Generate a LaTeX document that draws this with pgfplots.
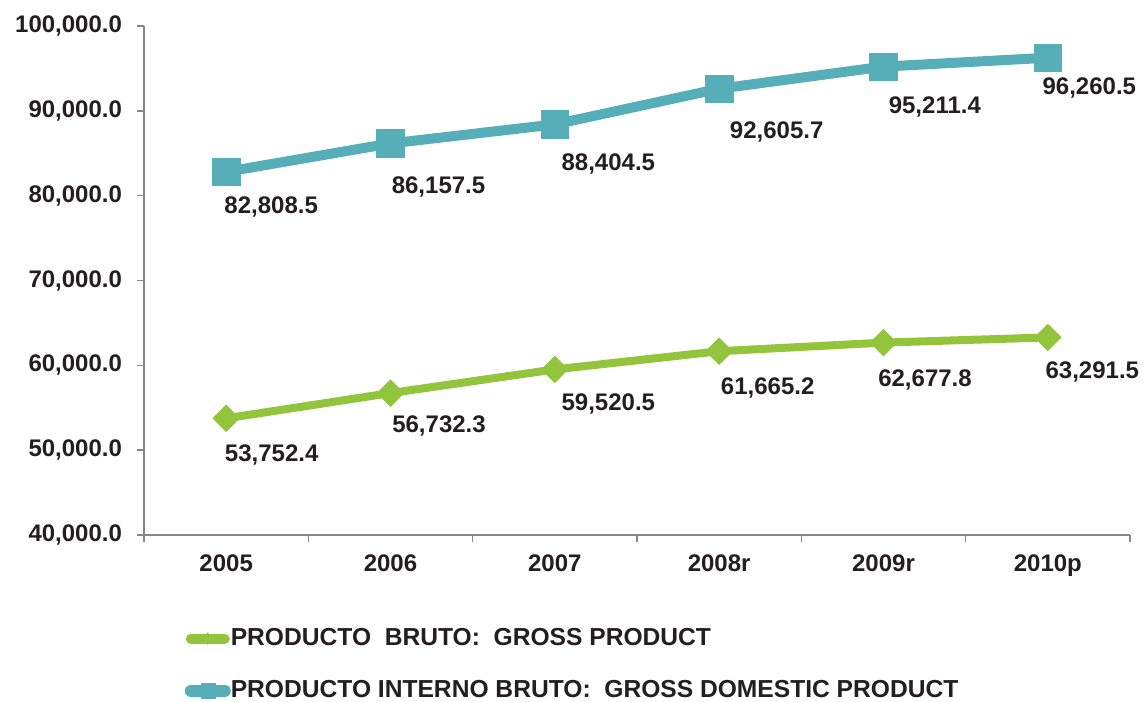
\documentclass[border=0pt]{standalone}
\usepackage{fontspec}
\setmainfont{Liberation Sans}
\usepackage{pgfplots}
\usepackage{pgfplotstable}
\pgfplotsset{compat=1.18}
\definecolor{grossgreen}{RGB}{146,197,60}
\definecolor{gdpteal}{RGB}{86,175,184}
\definecolor{axisgray}{RGB}{135,135,135}
\definecolor{txt}{RGB}{35,31,32}

\pgfplotstableread{
x y dx dy
0 53752.4 -0.75 13
1 56732.3 0.75 11
2 59520.5 3.25 12
3 61665.2 0.75 13.25
4 62677.8 -2.75 13.5
5 63291.5 -1.25 12.25
}\gross
\pgfplotstableread{
x y dx dy
0 82808.5 -1 12.25
1 86157.5 0.5 16.5
2 88404.5 3.25 14.75
3 92605.7 5.25 16.25
4 95211.4 2.5 15
5 96260.5 -2.75 10
}\gdp

\begin{document}
\begin{tikzpicture}
\useasboundingbox (-72pt,-83pt) rectangle (500pt,267.5pt);
\begin{axis}[
  at={(0pt,0pt)}, anchor=south west,
  scale only axis, width=493pt, height=254.5pt,
  xmin=-0.5, xmax=5.5, ymin=40000, ymax=100000,
  axis lines*=left,
  axis line style={-, draw=axisgray, line width=1pt},
  tick align=outside, tick pos=left,
  xtick={0,...,5},
  xticklabels={2005,2006,2007,2008r,2009r,2010p},
  major x tick style={draw=none},
  minor xtick={-0.5,0.5,1.5,2.5,3.5,4.5,5.5},
  minor x tick style={draw=axisgray, line width=0.8pt},
  ytick={40000,50000,...,100000},
  scaled y ticks=false,
  y tick style={draw=axisgray, line width=0.8pt},
  major tick length=3.5pt, minor tick length=3.5pt,
  yticklabel style={xshift=-4pt, /pgf/number format/fixed, /pgf/number format/fixed zerofill, /pgf/number format/precision=1, /pgf/number format/1000 sep={,}, /pgf/number format/assume math mode=true},
  tick label style={font=\fontsize{12}{14}\selectfont\bfseries, text=txt},
  xticklabel style={yshift=-3pt},
  clip=false,
  legend style={at={(0.041,-0.183)}, anchor=north west, draw=none, fill=none,
    font=\fontsize{12.3}{14}\selectfont\bfseries, text=txt,
    row sep=16pt, inner sep=0pt,
    nodes={inner sep=0pt}},
  legend cell align=left,
  nodes near coords={\pgfmathprintnumber[fixed,fixed zerofill,precision=1,1000 sep={,},assume math mode=true]{\pgfplotspointmeta}},
  point meta=y,
  visualization depends on={\thisrow{dx}\as\lblx},
  visualization depends on={\thisrow{dy}\as\lbly},
  every node near coord/.append style={anchor=north west, inner sep=0pt,
    xshift=\lblx pt, yshift=-\lbly pt,
    font=\fontsize{12}{14}\selectfont\bfseries, text=txt},
]
\addplot[color=grossgreen, line width=4pt, mark=square*, mark size=4.7pt,
  mark options={rotate=45, fill=grossgreen, draw=grossgreen, line width=0.3pt},
  legend image code/.code={
    \draw[grossgreen, line width=5pt, line cap=round] (0pt,0pt) -- (17pt,0pt);
    \fill[grossgreen, draw=none] (8.5pt,3.2pt) -- (10.5pt,0pt) -- (8.5pt,-3.2pt) -- (6.5pt,0pt) -- cycle;
  }] table[x=x, y=y] {\gross};
\addlegendentry{PRODUCTO\ \ BRUTO:\ \ GROSS PRODUCT}
\addplot[color=gdpteal, line width=5pt, mark=square*, mark size=6.9pt,
  mark options={fill=gdpteal, draw=gdpteal, line width=0.3pt},
  legend image code/.code={
    \draw[gdpteal, line width=6pt, line cap=round] (0pt,0pt) -- (17pt,0pt);
    \fill[gdpteal, draw=none] (5pt,-4pt) rectangle (12.5pt,4pt);
  }] table[x=x, y=y] {\gdp};
\addlegendentry{PRODUCTO INTERNO BRUTO:\ \ GROSS DOMESTIC PRODUCT}
\end{axis}
\end{tikzpicture}
\end{document}
